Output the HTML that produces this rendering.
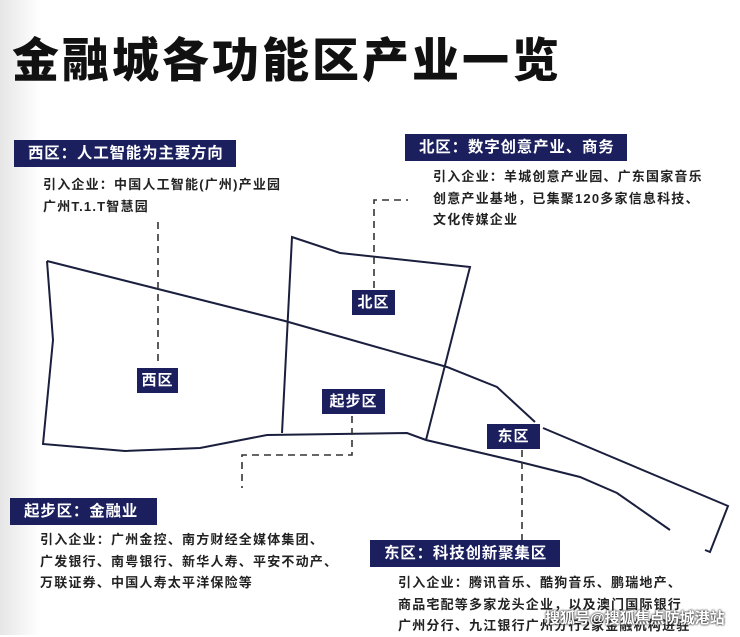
<!DOCTYPE html>
<html><head><meta charset="utf-8"><style>
body{margin:0;width:740px;height:635px;overflow:hidden;background:#fff;font-family:"Liberation Sans","Noto Sans CJK SC",sans-serif;position:relative}
.bg{position:absolute;left:0;top:0;width:40px;height:635px;background:linear-gradient(90deg,#e6e6e6,#fff)}
.t{position:absolute;left:12px;top:22px;font-size:47px;font-weight:900;color:#111;letter-spacing:3px;white-space:nowrap}
.h{position:absolute;background:#1b1f5e;color:#fff;font-weight:bold;font-size:15.5px;letter-spacing:0.8px;line-height:27px;padding-left:14px;box-sizing:border-box;white-space:nowrap;overflow:hidden}
.h:after{content:"";position:absolute;left:0;bottom:-6px;border-top:6px solid #6e7390;border-right:7px solid transparent}
.p{position:absolute;font-size:13px;font-weight:bold;color:#222;line-height:21.5px;white-space:nowrap;letter-spacing:1.2px}
.l{position:absolute;background:#1b1f5e;color:#fff;font-weight:bold;font-size:15px;line-height:25px;text-align:center;letter-spacing:1px}
.wm{position:absolute;left:545px;top:607px;font-size:15px;font-weight:bold;color:#fff;text-shadow:0 0 2px #333,0 0 2px #333;white-space:nowrap}
</style></head><body>
<div class="bg"></div>
<div class="t">金融城各功能区产业一览</div>
<svg width="740" height="635" style="position:absolute;left:0;top:0">
<g fill="none" stroke="#1b1f3e" stroke-width="2">
<polyline points="47,261 285,321 447,367 497,387 535,422"/>
<polyline points="543,428 728,506 710,552 705,550"/>
<polyline points="47,261 53,340 43,444 125,451 200,448 267,435 407,433 426,440 520,462 580,477 617,493 670,530"/>
<polyline points="282,433 292,237 340,253 470,267 426,440"/>
</g>
<g fill="none" stroke="#333" stroke-width="1.6" stroke-dasharray="7,5">
<polyline points="158,222 158,365"/>
<polyline points="374,288 374,200 408,200"/>
<polyline points="352,416 352,455 242,455 242,488"/>
<polyline points="522,450 522,540"/>
</g>
</svg>
<div class="h" style="left:14px;top:140px;width:222px">西区：人工智能为主要方向</div>
<div class="p" style="left:43px;top:174px">引入企业：中国人工智能(广州)产业园<br>广州T.1.T智慧园</div>
<div class="h" style="left:405px;top:134px;width:222px">北区：数字创意产业、商务</div>
<div class="p" style="left:433px;top:166px">引入企业：羊城创意产业园、广东国家音乐<br>创意产业基地，已集聚120多家信息科技、<br>文化传媒企业</div>
<div class="h" style="left:10px;top:498px;width:147px">起步区：金融业</div>
<div class="p" style="left:40px;top:529px">引入企业：广州金控、南方财经全媒体集团、<br>广发银行、南粤银行、新华人寿、平安不动产、<br>万联证券、中国人寿太平洋保险等</div>
<div class="h" style="left:370px;top:540px;width:190px">东区：科技创新聚集区</div>
<div class="p" style="left:398px;top:572px">引入企业：腾讯音乐、酷狗音乐、鹏瑞地产、<br>商品宅配等多家龙头企业，以及澳门国际银行<br>广州分行、九江银行广州分行2家金融机构进驻</div>
<div class="l" style="left:137px;top:368px;width:41px">西区</div>
<div class="l" style="left:352px;top:290px;width:43px">北区</div>
<div class="l" style="left:322px;top:389px;width:63px">起步区</div>
<div class="l" style="left:487px;top:424px;width:53px">东区</div>
<div class="wm">搜狐号@搜狐焦点防城港站</div>
</body></html>
